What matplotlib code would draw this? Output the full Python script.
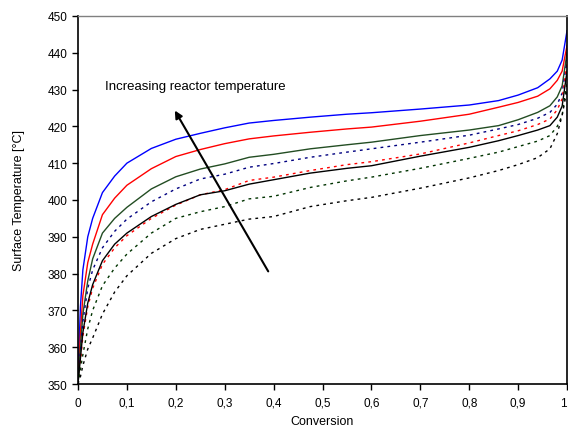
import matplotlib.pyplot as plt
from matplotlib.ticker import FuncFormatter

plt.rcParams['font.family'] = ['Liberation Sans', 'DejaVu Sans']

conversion = [0, 0.005, 0.01, 0.02, 0.03, 0.05, 0.075, 0.1, 0.15, 0.2, 0.25, 0.3,
              0.35, 0.4, 0.475, 0.55, 0.6, 0.7, 0.8, 0.86, 0.9, 0.94, 0.965,
              0.98, 0.99, 1.0]

blue_solid = [352, 371, 381, 390, 395, 402, 406.5, 410, 414, 416.5, 418.1, 419.6,
              420.9, 421.6, 422.5, 423.3, 423.7, 424.7, 425.8, 427, 428.5, 430.5,
              432.9, 435, 438, 446]
red_solid = [350.5, 364, 374, 383, 388, 396, 400.5, 404, 408.5, 411.8, 413.7, 415.3,
             416.6, 417.4, 418.4, 419.3, 419.8, 421.4, 423.3, 425.2, 426.5, 428.2,
             430.2, 432.5, 435, 442]
green_solid = [350, 360, 369, 378, 384, 391, 395, 398, 403, 406.3, 408.4, 409.8,
               411.6, 412.4, 413.9, 415, 415.7, 417.5, 419, 420.2, 421.8, 423.8,
               425.6, 428, 431, 440]
navy_dotted = [350, 359, 367, 376, 381, 387, 391.5, 394.8, 399.5, 403, 405.7, 407,
               408.9, 409.9, 411.6, 413, 413.9, 415.7, 417.6, 419.3, 420.5, 422.2,
               423.8, 426, 429, 438]
black_solid = [350, 357, 364, 372, 377, 383.5, 388, 391, 395.5, 398.8, 401.4, 402.5,
               404.3, 405.5, 407.3, 408.6, 409.3, 411.9, 414.3, 416.1, 417.5, 419,
               420.2, 422.5, 425.5, 435]
red_dotted = [350, 356, 363, 371, 376, 382.5, 387, 390.3, 395, 398.6, 401.4, 402.8,
              405.3, 406.2, 408, 409.6, 410.4, 412.5, 415.5, 417.5, 418.8, 420.5,
              422, 424.5, 427.5, 437]
green_dotted = [350, 354, 358, 365, 370, 376.7, 381.5, 385.3, 391, 395, 396.8, 398.2,
                400.3, 401, 403.4, 405.2, 406.2, 408.6, 411.3, 413, 414.5, 416,
                417.5, 420, 423, 432]
black_dotted = [350, 352, 355, 359.5, 362.5, 369, 375, 379.4, 385.5, 389.5, 392, 393.4,
                394.8, 395.5, 398.2, 399.8, 400.7, 403.2, 406, 408, 409.6, 411.5,
                413.9, 418, 423, 430]

series = [
    (blue_solid, '#0000FF', '-'),
    (red_solid, '#FF0000', '-'),
    (green_solid, '#234D23', '-'),
    (navy_dotted, '#000080', (0, (2, 3))),
    (red_dotted, '#FF0000', (0, (2, 3))),
    (black_solid, '#000000', '-'),
    (green_dotted, '#003300', (0, (2, 3))),
    (black_dotted, '#000000', (0, (2, 3))),
]

fig = plt.figure(figsize=(5.68, 4.31), dpi=100)
ax = fig.add_axes([0.1373, 0.1067, 0.861, 0.854])

for values, color, ls in series:
    ax.plot(conversion, values, color=color, linestyle=ls, linewidth=1.0)

ax.set_xlim(0, 1)
ax.set_ylim(350, 450)
ax.set_xticks([i / 10 for i in range(11)])
ax.set_yticks(range(350, 451, 10))
ax.xaxis.set_major_formatter(FuncFormatter(lambda v, p: ('%g' % round(v, 1)).replace('.', ',')))
ax.tick_params(direction='out', length=4, width=1, labelsize=8.5, colors='black')
ax.tick_params(axis='x', pad=5)
# last label sits right at the figure edge, as in the original
ax.get_xticklabels()[-1].set_ha('right')

for side in ['left', 'bottom', 'right']:
    ax.spines[side].set_color('black')
    ax.spines[side].set_linewidth(1.2)
ax.spines['top'].set_color('#808080')
ax.spines['top'].set_linewidth(1.0)

ax.set_xlabel('Conversion', fontsize=9, labelpad=5)
ax.set_ylabel('Surface Temperature [°C]', fontsize=9, labelpad=16)

ax.annotate('', xy=(0.198, 424.3), xytext=(0.389, 380.6),
            arrowprops=dict(arrowstyle='-|>', color='black', lw=1.5,
                            mutation_scale=11, shrinkA=0, shrinkB=0))
ax.text(0.055, 431.0, 'Increasing reactor temperature', fontsize=9.5,
        ha='left', va='center')

fig.savefig('out.png', dpi=100)
